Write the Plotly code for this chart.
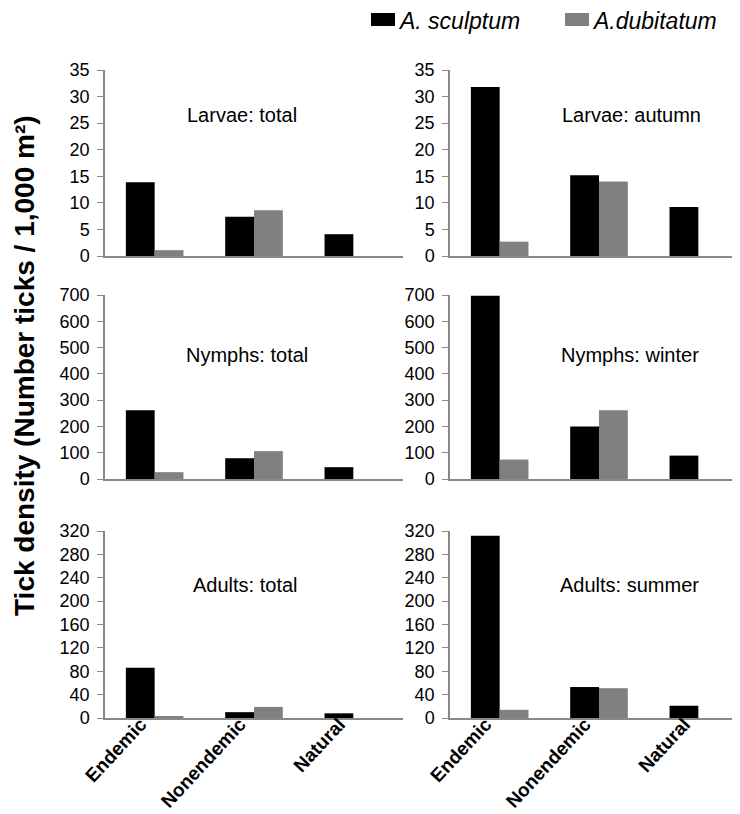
import plotly.graph_objects as go

# ── Data ─────────────────────────────────────────────────────────────────────

habitats = ["Endemic", "Nonendemic", "Natural"]
species = ["A. sculptum", "A.dubitatum"]

panel_titles = ["Larvae: total", "Larvae: autumn",
                "Nymphs: total", "Nymphs: winter",
                "Adults: total", "Adults: summer"]

larvae_total_sculptum = [13.9, 7.4, 4.1]
larvae_total_dubitatum = [1.1, 8.6, 0]
larvae_autumn_sculptum = [31.8, 15.2, 9.2]
larvae_autumn_dubitatum = [2.7, 14.0, 0]

nymphs_total_sculptum = [262, 79, 45]
nymphs_total_dubitatum = [26, 106, 0]
nymphs_winter_sculptum = [697, 200, 89]
nymphs_winter_dubitatum = [74, 262, 0]

adults_total_sculptum = [86, 10, 8]
adults_total_dubitatum = [3, 19, 0]
adults_summer_sculptum = [312, 53, 21]
adults_summer_dubitatum = [14, 51, 0]

panel_sculptum = [larvae_total_sculptum, larvae_autumn_sculptum,
                  nymphs_total_sculptum, nymphs_winter_sculptum,
                  adults_total_sculptum, adults_summer_sculptum]
panel_dubitatum = [larvae_total_dubitatum, larvae_autumn_dubitatum,
                   nymphs_total_dubitatum, nymphs_winter_dubitatum,
                   adults_total_dubitatum, adults_summer_dubitatum]

row_ranges = [(0, 35, 5), (0, 700, 100), (0, 320, 40)]

# ── Layout helpers ───────────────────────────────────────────────────────────

W, H = 740, 814
FONT = "Liberation Sans, Arial, sans-serif"
AXIS_GREY = "#888888"
SCULPTUM = "#000000"
DUBITATUM = "#808080"


def px_x(p):
    return p / W


def px_y(p):
    return 1 - p / H


col_px = [(97, 395), (442, 740)]
row_px = [(62, 248), (287, 471), (523, 710)]

# title positions inside each panel (axis-domain fractions)
title_pos = [(0.46, 0.76), (0.61, 0.76),
             (0.477, 0.674), (0.604, 0.674),
             (0.47, 0.711), (0.604, 0.711)]

fig = go.Figure()
layout = dict(
    width=W, height=H,
    margin=dict(l=0, r=0, t=0, b=0),
    paper_bgcolor="white",
    plot_bgcolor="white",
    font=dict(family=FONT, color="black"),
    barmode="group",
    bargap=0.42,
    bargroupgap=0,
    showlegend=False,
)

annotations = []
for i in range(6):
    r, c = divmod(i, 2)
    n = i + 1
    xa = "x" if n == 1 else f"x{n}"
    ya = "y" if n == 1 else f"y{n}"
    fig.add_trace(go.Bar(x=habitats, y=panel_sculptum[i], name=species[0],
                         marker=dict(color=SCULPTUM, line=dict(width=0)),
                         xaxis=xa, yaxis=ya, offsetgroup="s"))
    fig.add_trace(go.Bar(x=habitats, y=panel_dubitatum[i], name=species[1],
                         marker=dict(color=DUBITATUM, line=dict(width=0)),
                         xaxis=xa, yaxis=ya, offsetgroup="d"))

    lo, hi, step = row_ranges[r]
    x0, x1 = col_px[c]
    y0, y1 = row_px[r]
    xkey = "xaxis" if n == 1 else f"xaxis{n}"
    ykey = "yaxis" if n == 1 else f"yaxis{n}"
    layout[xkey] = dict(
        domain=[px_x(x0), px_x(x1)],
        anchor=ya,
        range=[-0.5, 2.5],
        showline=True, linecolor=AXIS_GREY, linewidth=1.5,
        ticks="", showgrid=False, zeroline=False,
        showticklabels=(r == 2),
        tickangle=-47,
        ticklabelshift=-14,
        ticklabelstandoff=-14,
        tickfont=dict(size=19, family=FONT, color="black", weight="bold"),
        automargin=False,
        fixedrange=True,
    )
    layout[ykey] = dict(
        domain=[px_y(y1), px_y(y0)],
        anchor=xa,
        range=[lo, hi],
        dtick=step,
        tick0=0,
        showline=True, linecolor=AXIS_GREY, linewidth=1.5,
        ticks="outside", ticklen=6, tickcolor=AXIS_GREY, tickwidth=1.2,
        ticklabelstandoff=4,
        showgrid=False, zeroline=False,
        tickfont=dict(size=18, family=FONT, color="black"),
        automargin=False,
        fixedrange=True,
    )
    tx, ty = title_pos[i]
    annotations.append(dict(
        text=panel_titles[i], xref=f"{xa} domain", yref=f"{ya} domain",
        x=tx, y=ty, xanchor="center", yanchor="middle", showarrow=False,
        font=dict(size=20, family=FONT, color="black"),
    ))

# y-axis title shared by all panels
annotations.append(dict(
    text="Tick density (Number ticks / 1,000 m²)",
    xref="paper", yref="paper", x=px_x(16), y=px_y(358),
    xanchor="center", yanchor="middle", textangle=-90, showarrow=False,
    font=dict(size=28, family=FONT, color="black", weight="bold"),
))

# legend drawn at the top (boxes + italic labels)
legend_items = [(species[0], SCULPTUM, 363), (species[1], DUBITATUM, 557)]
shapes = []
for label, color, left in legend_items:
    shapes.append(dict(type="rect", xref="paper", yref="paper",
                       x0=px_x(left), x1=px_x(left + 24),
                       y0=px_y(18), y1=px_y(5),
                       fillcolor=color, line=dict(width=0)))
    annotations.append(dict(
        text=f"<i>{label}</i>", xref="paper", yref="paper",
        x=px_x(left + 25), y=px_y(13), xanchor="left", yanchor="middle",
        showarrow=False, font=dict(size=23, family=FONT, color="black"),
    ))

layout["annotations"] = annotations
layout["shapes"] = shapes
fig.update_layout(**layout)

fig.write_html("out.html")
